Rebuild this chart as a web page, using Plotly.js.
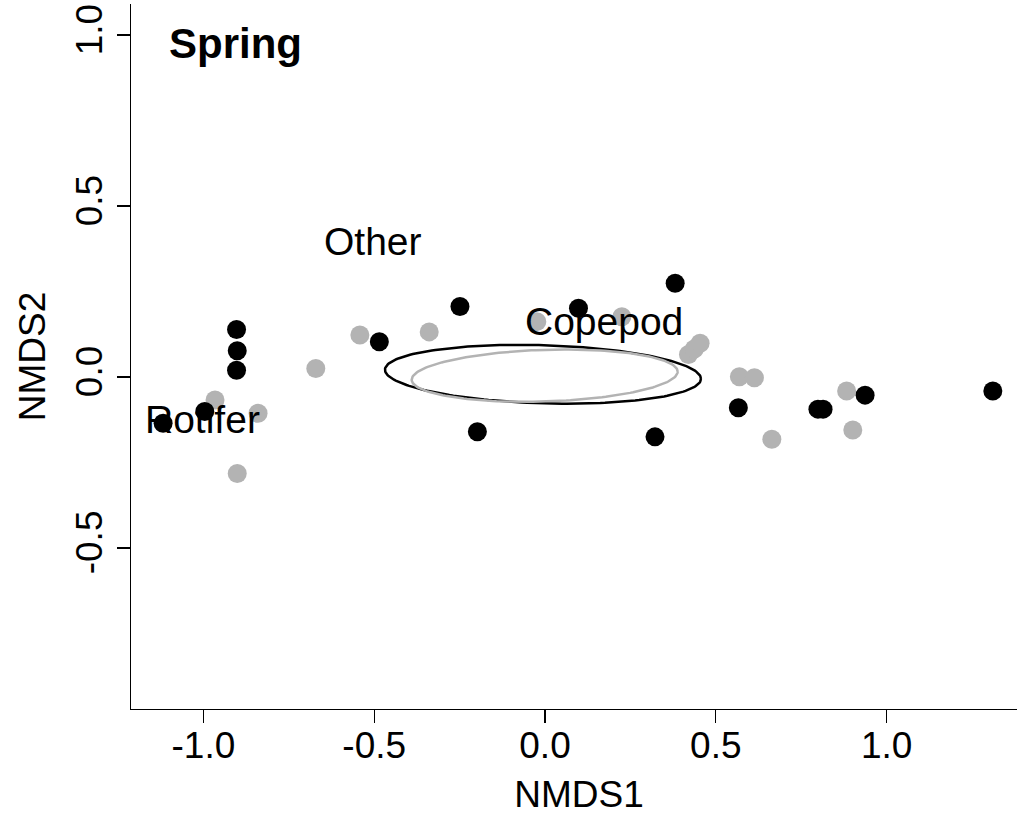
<!DOCTYPE html>
<html>
<head>
<meta charset="utf-8">
<script src="https://cdn.plot.ly/plotly-3.0.1.min.js"></script>
<style>
html, body { margin: 0; padding: 0; overflow: hidden; background: #fff; }
#chart { width: 1027px; height: 815px; }
</style>
</head>
<body>
<div id="chart"></div>
<script>
// Site scores (NMDS1, NMDS2) for the two groups
const blackX = [-0.903, -0.901, -0.903, -1.118, -0.996, -0.485, -0.249, -0.198, 0.098, 0.381, 0.322, 0.566, 0.799, 0.814, 0.937, 1.311];
const blackY = [0.139, 0.077, 0.020, -0.135, -0.101, 0.103, 0.206, -0.160, 0.201, 0.274, -0.175, -0.090, -0.094, -0.094, -0.053, -0.041];
const grayX = [-0.966, -0.840, -0.901, -0.671, -0.542, -0.339, -0.024, 0.225, 0.420, 0.437, 0.454, 0.569, 0.613, 0.664, 0.883, 0.901];
const grayY = [-0.067, -0.106, -0.282, 0.025, 0.123, 0.132, 0.162, 0.176, 0.066, 0.082, 0.099, 0.001, -0.002, -0.182, -0.041, -0.155];

// Species scores (text labels)
const speciesNames = ["Other", "Copepod", "Rotifer"];
const speciesX = [-0.503, 0.173, -1.003];
const speciesY = [0.396, 0.162, -0.124];

// Group ellipses: centre, semi-axes, rotation (degrees)
const ellipseColors = ["#000000", "#b3b3b3"];
const ellipseCX = [-0.006, -0.001];
const ellipseCY = [0.008, 0.004];
const ellipseA = [0.4627, 0.3895];
const ellipseB = [0.085, 0.0755];
const ellipseAngle = [-1.7, 1.8];

const xTicks = [-1.0, -0.5, 0.0, 0.5, 1.0];
const xTickText = ["-1.0", "-0.5", "0.0", "0.5", "1.0"];
const yTicks = [-0.5, 0.0, 0.5, 1.0];
const yTickText = ["-0.5", "0.0", "0.5", "1.0"];

const panelTitle = "Spring";

function ellipsePath(i) {
  const xs = [], ys = [];
  const th = ellipseAngle[i] * Math.PI / 180;
  const n = 200;
  for (let k = 0; k <= n; k++) {
    const t = 2 * Math.PI * k / n;
    const ex = ellipseA[i] * Math.cos(t);
    const ey = ellipseB[i] * Math.sin(t);
    xs.push(ellipseCX[i] + ex * Math.cos(th) - ey * Math.sin(th));
    ys.push(ellipseCY[i] + ex * Math.sin(th) + ey * Math.cos(th));
  }
  return {xs, ys};
}

const FONT = "Liberation Sans, Arial, sans-serif";

const traces = [
  {x: grayX, y: grayY, type: "scatter", mode: "markers",
   marker: {color: "#b3b3b3", size: 19, line: {width: 0}}, hoverinfo: "skip"},
  {x: blackX, y: blackY, type: "scatter", mode: "markers",
   marker: {color: "#000000", size: 19, line: {width: 0}}, hoverinfo: "skip"}
];
for (let i = 0; i < ellipseCX.length; i++) {
  const p = ellipsePath(i);
  traces.push({x: p.xs, y: p.ys, type: "scatter", mode: "lines",
    line: {color: ellipseColors[i], width: 2.5}, hoverinfo: "skip"});
}

const annotations = speciesNames.map((s, i) => ({
  x: speciesX[i], y: speciesY[i], xref: "x", yref: "y", text: s,
  showarrow: false, xanchor: "center", yanchor: "middle",
  font: {family: FONT, size: 39, color: "#000"}
}));
annotations.push({
  x: 0.040, y: 0.944, xref: "paper", yref: "paper", text: "<b>" + panelTitle + "</b>",
  showarrow: false, xanchor: "left", yanchor: "middle",
  font: {family: FONT, size: 42, color: "#000"}
});

const layout = {
  width: 1027, height: 815,
  margin: {l: 131, r: 0, t: 4, b: 106, pad: 0},
  paper_bgcolor: "#fff", plot_bgcolor: "#fff",
  showlegend: false,
  font: {family: FONT, size: 37, color: "#000"},
  xaxis: {
    range: [-1.212, 1.411], showgrid: false, zeroline: false,
    showline: true, linecolor: "#000", linewidth: 1.3,
    ticks: "outside", ticklen: 13, tickwidth: 1.3, tickcolor: "#000",
    tickvals: xTicks, ticktext: xTickText, ticklabelstandoff: -10,
    tickfont: {family: FONT, size: 37, color: "#000"},
    title: {text: "NMDS1", font: {family: FONT, size: 37, color: "#000"}, standoff: 22}
  },
  yaxis: {
    range: [-0.971, 1.091], showgrid: false, zeroline: false,
    showline: true, linecolor: "#000", linewidth: 1.3,
    ticks: "outside", ticklen: 13, tickwidth: 1.3, tickcolor: "#000",
    tickvals: yTicks, ticktext: yTickText, tickangle: -90,
    tickfont: {family: FONT, size: 37, color: "#000"},
    title: {text: "NMDS2", font: {family: FONT, size: 37, color: "#000"}, standoff: 12}
  },
  annotations: annotations
};

Plotly.newPlot("chart", traces, layout, {displayModeBar: false, staticPlot: true});
</script>
</body>
</html>
